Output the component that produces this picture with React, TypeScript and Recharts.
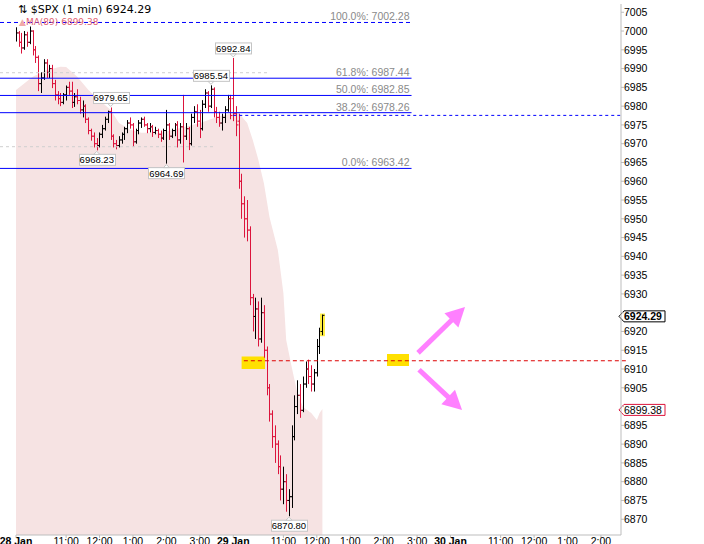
import React from 'react';
import {
  ComposedChart,
  Area,
  Bar,
  XAxis,
  YAxis,
  ReferenceLine,
  ReferenceArea,
  ReferenceDot,
} from 'recharts';

// time axis = trading minutes since 28 Jan 9:30 (one session = 390 min)
const BAR_MINUTES = 5;
const DAY2_START = 390;

// 28 Jan, 5-minute bars
const day1Open = [
  6998, 6999.5, 6997, 6995.5, 6999, 6997, 7000, 6995, 6993, 6986,
  6987.5, 6991.5, 6989, 6990, 6986, 6983, 6982, 6981, 6983, 6985,
  6984, 6981, 6982.5, 6981.5, 6979, 6980, 6976.5, 6973.5, 6972, 6970,
  6969.5, 6972.5, 6974, 6976.5, 6978.5, 6972, 6970, 6969.5, 6971, 6972.5,
  6974, 6975.5, 6975, 6970.5, 6973.5, 6975.5, 6976.5, 6975, 6974, 6974.5,
  6973, 6973.5, 6972.5, 6971.5, 6973.5, 6975, 6972, 6973.5, 6975, 6971,
  6974.5, 6972, 6974, 6970, 6977, 6978.5, 6976, 6974, 6980.5, 6983.5,
  6980, 6984.5, 6978.5, 6977, 6975.5, 6977, 6979, 6982,
];
const day1High = [
  7001, 7000, 6999.5, 7000, 6999.8, 7001.2, 7000.2, 6996, 6993.5, 6989,
  6992.5, 6992.5, 6991, 6991, 6987, 6984, 6983.5, 6983.5, 6985.5, 6986.5,
  6986.5, 6983.5, 6984.5, 6982.5, 6981.5, 6980.5, 6977, 6974, 6973, 6971.5,
  6973, 6975, 6977.2, 6978.8, 6979.65, 6972.5, 6971, 6972, 6973, 6974.5,
  6976.3, 6977, 6975.5, 6974, 6976.3, 6977, 6977.2, 6975.5, 6975.5, 6975,
  6974.5, 6974, 6973.5, 6974, 6979, 6975.5, 6974, 6975.5, 6976, 6975.5,
  6983, 6975.5, 6974.5, 6978, 6980, 6980.5, 6979, 6981.6, 6984.5, 6984,
  6985.54, 6985, 6979.8, 6978.5, 6978, 6980, 6983, 6983,
];
const day1Low = [
  6997.2, 6995.8, 6994, 6995, 6995.8, 6996.5, 6993.5, 6991.5, 6984, 6983.5,
  6987, 6987.5, 6987.5, 6984.8, 6981.5, 6980.5, 6980, 6980.5, 6981.5, 6983,
  6979.5, 6979.8, 6980.5, 6978, 6977, 6975.5, 6972.5, 6970.8, 6969, 6968.23,
  6969, 6971.5, 6973.5, 6975.5, 6971, 6969, 6968.5, 6969, 6970, 6971,
  6972.8, 6974, 6969.2, 6970, 6972.5, 6974.2, 6974.5, 6972.8, 6973, 6971.8,
  6972.5, 6971.5, 6970.5, 6971, 6964.69, 6971, 6971.5, 6972, 6969, 6970,
  6965, 6971, 6968.3, 6969.5, 6975.5, 6974.5, 6971.5, 6973.5, 6979.5, 6978.5,
  6979.5, 6977, 6975.5, 6974.5, 6973.5, 6975.5, 6978.5, 6976.5,
];
const day1Close = [
  6999.5, 6997, 6995.5, 6999, 6997, 7000, 6995, 6993, 6986, 6987.5,
  6991.5, 6989, 6990, 6986, 6983, 6982, 6981, 6983, 6985, 6984,
  6981, 6982.5, 6981.5, 6979, 6980, 6976.5, 6973.5, 6972, 6970, 6969.5,
  6972.5, 6974, 6976.5, 6978.5, 6972, 6970, 6969.5, 6971, 6972.5, 6974,
  6975.5, 6975, 6970.5, 6973.5, 6975.5, 6976.5, 6975, 6974, 6974.5, 6973,
  6973.5, 6972.5, 6971.5, 6973.5, 6975, 6972, 6973.5, 6975, 6971, 6974.5,
  6972, 6974, 6970, 6977, 6978.5, 6976, 6974, 6980.5, 6983.5, 6980,
  6984.5, 6978.5, 6977, 6975.5, 6977, 6979, 6982, 6977.5,
];

// 29 Jan, 9:30 to about 12:10
const day2Open = [
  6982, 6978, 6976, 6960, 6954, 6950, 6947, 6929, 6924, 6926,
  6918, 6925, 6915, 6905, 6898, 6892, 6890, 6884, 6878, 6880,
  6875, 6876, 6892, 6900, 6903, 6899, 6906, 6910, 6908, 6906,
  6909, 6916, 6920,
];
const day2High = [
  6992.84, 6980, 6978, 6962, 6956, 6955, 6948, 6930, 6929, 6928,
  6929, 6927, 6916, 6906, 6899, 6895, 6891, 6887, 6884, 6882,
  6878, 6895, 6903, 6907, 6906, 6908, 6912, 6912.5, 6911, 6910,
  6918, 6921, 6924.5,
];
const day2Low = [
  6976, 6972, 6958, 6950, 6945, 6944, 6927, 6920, 6918, 6916,
  6917, 6913, 6903, 6896, 6889, 6885, 6882, 6875, 6874, 6872,
  6870.8, 6873, 6891, 6898, 6897, 6898.5, 6905, 6906, 6904, 6904,
  6908, 6914, 6919,
];
const day2Close = [
  6978, 6975, 6960, 6954, 6950, 6947, 6929, 6924, 6926, 6918,
  6925, 6915, 6905, 6898, 6892, 6890, 6884, 6878, 6880, 6875,
  6876, 6892, 6900, 6903, 6899, 6906, 6910, 6908, 6906, 6909,
  6916, 6920, 6924.29,
];

// MA(89) outline of the shaded area
const maTimes = [
  0, 30, 55, 80, 90, 110, 130, 150, 170, 185, 205, 225, 260, 295, 330, 365,
  390, 400, 415, 425, 435, 445, 455, 470, 480, 485, 495, 505, 515, 530, 540, 545, 550,
];
const maValues = [
  6984.3, 6987.8, 6989.6, 6990.5, 6990.4, 6987.8, 6984.3, 6981.6, 6979, 6975.5,
  6973.7, 6972.9, 6972.9, 6974.2, 6975.5, 6977.3, 6978.2, 6978.2, 6975.5, 6971,
  6965.7, 6959.5, 6950.5, 6941.7, 6930.2, 6917.7, 6910.5, 6903.6, 6899.9, 6898.3,
  6896.4, 6898.3, 6899.38,
];

// Fibonacci retracement
const fibPct = ['100.0%', '61.8%', '50.0%', '38.2%', '0.0%'];
const fibLevels = [7002.28, 6987.44, 6982.85, 6978.26, 6963.42];

// swing high / low flags
const highMarkTimes = [390, 350, 170];
const highMarkValues = [6992.84, 6985.54, 6979.65];
const lowMarkTimes = [145, 270, 490];
const lowMarkValues = [6968.23, 6964.69, 6870.8];

const prevClose = 6977.54;
const pivotLevel = 6912.2;
const grayLevels = [6988.9, 6969.2];
const grayEnds = [452, 354];

const xTicks = [0, 90, 150, 210, 270, 330, 390, 480, 540, 600, 660, 720, 780, 870, 930, 990, 1050];
const xTickLabels = [
  '28 Jan', '11:00', '12:00', '1:00', '2:00', '3:00',
  '29 Jan', '11:00', '12:00', '1:00', '2:00', '3:00',
  '30 Jan', '11:00', '12:00', '1:00', '2:00',
];
const yTicks = [
  6870, 6875, 6880, 6885, 6890, 6895, 6900, 6905, 6910, 6915, 6920, 6925, 6930, 6935,
  6940, 6945, 6950, 6955, 6960, 6965, 6970, 6975, 6980, 6985, 6990, 6995, 7000, 7005,
];

const Y_MIN = 6865.8;
const Y_MAX = 7007.2;
const X_MAX = 1086;
const X_PAGE_LEFT = -28.7; // x of the picture's left edge, in minutes
const FIB_END = 710;

const FONT = '"Liberation Sans", Arial, sans-serif';
const UP = '#000000';
const DOWN = '#dc143c';
const BLUE = '#0000ff';
const PINK = '#ff80ff';
const YELLOW = '#ffe000';

const bars = [
  ...day1Close.map((c, i) => ({
    t: i * BAR_MINUTES,
    open: day1Open[i],
    high: day1High[i],
    low: day1Low[i],
    close: c,
  })),
  ...day2Close.map((c, i) => ({
    t: DAY2_START + i * BAR_MINUTES,
    open: day2Open[i],
    high: day2High[i],
    low: day2Low[i],
    close: c,
  })),
];
const lastT = bars[bars.length - 1].t;
const lastClose = day2Close[day2Close.length - 1];
const lastMa = maValues[maValues.length - 1];
const tagValues = [lastClose, lastMa];

const chartData = bars.map((b) => {
  const k = maTimes.indexOf(b.t);
  return { ...b, ma: k >= 0 ? maValues[k] : undefined };
});

const OhlcBar = (props: any) => {
  const { x, y, width, height, payload } = props;
  if (!payload || y == null || height == null) return null;
  const { open, high, low, close, t } = payload;
  const cx = Math.round(x + width / 2) + 0.5;
  const span = high - low;
  const pos = (v: number) => (span > 0 ? y + ((high - v) / span) * height : y);
  const color = close >= open ? UP : DOWN;
  return (
    <g>
      {t === lastT && (
        <rect x={cx - 2.5} y={y - 1} width={5} height={height + 2} fill="#ffee44" />
      )}
      <line x1={cx} x2={cx} y1={y} y2={y + height} stroke={color} strokeWidth={1} />
      <line x1={cx - 2} x2={cx} y1={pos(open)} y2={pos(open)} stroke={color} strokeWidth={1} />
      <line x1={cx} x2={cx + 2} y1={pos(close)} y2={pos(close)} stroke={color} strokeWidth={1} />
    </g>
  );
};

const PriceFlag = ({ cx, cy, value, above }: any) => {
  if (cx == null || cy == null) return null;
  const w = 36;
  const h = 11;
  const left = Math.round(cx - w / 2) + 0.5;
  const tip = above ? cy - 1 : cy + 1;
  const edge = above ? cy - 4 : cy + 4;
  const top = above ? edge - h : edge;
  return (
    <g>
      <rect x={left} y={top} width={w} height={h} fill="#fff" stroke="#c4c4c4" />
      <polygon
        points={`${cx - 3},${edge} ${cx},${tip} ${cx + 3},${edge}`}
        fill="#fff"
        stroke="#c4c4c4"
      />
      <text
        x={cx}
        y={top + h / 2}
        dy="0.36em"
        textAnchor="middle"
        fontSize={9.5}
        fontFamily={FONT}
        fill="#000"
      >
        {value.toFixed(2)}
      </text>
    </g>
  );
};

const AxisTag = ({ viewBox, value, border, bold }: any) => {
  if (!viewBox) return null;
  const x = viewBox.x + viewBox.width - 2;
  const cy = viewBox.y + 1;
  return (
    <g>
      <polygon
        points={`${x},${cy} ${x + 5},${cy - 5.5} ${x + 46},${cy - 5.5} ${x + 46},${cy + 5.5} ${x + 5},${cy + 5.5}`}
        fill="#fff"
        stroke={border}
      />
      <text
        x={x + 5}
        y={cy}
        dy="0.36em"
        fontSize={10.5}
        fontFamily={FONT}
        fontWeight={bold ? 'bold' : 'normal'}
        fill="#000"
      >
        {value.toFixed(2)}
      </text>
    </g>
  );
};

const ArrowShape = (p: any) => {
  const { x1, y1, x2, y2 } = p;
  if (x1 == null) return null;
  const dx = x2 - x1;
  const dy = y2 - y1;
  const len = Math.hypot(dx, dy) || 1;
  const ux = dx / len;
  const uy = dy / len;
  const nx = -uy;
  const ny = ux;
  const bx = x2 - ux * 19;
  const by = y2 - uy * 19;
  return (
    <g>
      <line x1={x1} y1={y1} x2={bx + ux * 2} y2={by + uy * 2} stroke={PINK} strokeWidth={5} />
      <polygon
        points={`${x2},${y2} ${bx + nx * 10},${by + ny * 10} ${bx - nx * 10},${by - ny * 10}`}
        fill={PINK}
      />
    </g>
  );
};

const TimeTick = (props: any) => {
  const { x, y, payload } = props;
  const k = xTicks.indexOf(payload.value);
  const label = xTickLabels[k] ?? '';
  const isDate = label.includes('Jan');
  return (
    <text
      x={x}
      y={y}
      dy="0.71em"
      textAnchor="middle"
      fontSize={10.5}
      fontFamily={FONT}
      fontWeight={isDate ? 'bold' : 'normal'}
      fill="#000"
    >
      {label}
    </text>
  );
};

// price labels; the ones sitting under a price tag are covered by it
const PriceTick = (props: any) => {
  const { x, y, payload } = props;
  if (tagValues.some((v) => Math.abs(v - payload.value) < 2.5)) return null;
  return (
    <text x={x} y={y} dy="0.36em" textAnchor="start" fontSize={10.5} fontFamily={FONT} fill="#000">
      {payload.value}
    </text>
  );
};

const App: React.FC = () => {
  return (
    <div
      style={{
        position: 'absolute',
        left: 0,
        top: 0,
        width: 704,
        height: 544,
        background: '#fff',
        overflow: 'hidden',
        fontFamily: FONT,
      }}
    >
      <ComposedChart
        width={704}
        height={544}
        data={chartData}
        margin={{ top: 4, right: 0, bottom: 0, left: 16 }}
      >
        <XAxis
          dataKey="t"
          type="number"
          domain={[0, X_MAX]}
          allowDataOverflow
          ticks={xTicks}
          interval={0}
          tick={<TimeTick />}
          tickSize={3}
          tickMargin={0}
          height={9}
          stroke="#bdbdbd"
        />
        <XAxis
          xAxisId="frame"
          orientation="top"
          type="number"
          domain={[0, X_MAX]}
          height={0}
          tick={false}
          tickLine={false}
          stroke="#bdbdbd"
        />
        <YAxis
          orientation="right"
          type="number"
          domain={[Y_MIN, Y_MAX]}
          allowDataOverflow
          ticks={yTicks}
          interval={0}
          tickSize={3}
          tickMargin={0}
          width={83}
          stroke="#bdbdbd"
          tick={<PriceTick />}
        />
        <YAxis
          yAxisId="frame"
          orientation="left"
          type="number"
          domain={[Y_MIN, Y_MAX]}
          width={0}
          tick={false}
          tickLine={false}
          stroke="#bdbdbd"
        />

        {/* MA(89) shading */}
        <Area
          dataKey="ma"
          type="linear"
          stroke="none"
          fill="#f6e3e3"
          fillOpacity={1}
          baseValue="dataMin"
          connectNulls
          dot={false}
          activeDot={false}
          isAnimationActive={false}
        />

        {/* yellow level markers */}
        <ReferenceArea x1={405} x2={447} y1={6910.0} y2={6913.3} fill={YELLOW} fillOpacity={1} stroke="none" ifOverflow="visible" />
        <ReferenceArea x1={666} x2={705.5} y1={6910.8} y2={6914.0} fill={YELLOW} fillOpacity={1} stroke="none" ifOverflow="visible" />

        {/* gray guide lines */}
        {grayLevels.map((v, i) => (
          <ReferenceLine
            key={`g${v}`}
            segment={[{ x: X_PAGE_LEFT, y: v }, { x: grayEnds[i], y: v }]}
            stroke="#cfcfcf"
            strokeDasharray="3 3"
            ifOverflow="visible"
          />
        ))}

        {/* previous close and pivot */}
        <ReferenceLine
          segment={[{ x: DAY2_START, y: prevClose }, { x: X_MAX, y: prevClose }]}
          stroke={BLUE}
          strokeDasharray="3 3"
          ifOverflow="visible"
        />
        <ReferenceLine
          segment={[{ x: 409, y: pivotLevel }, { x: 1098, y: pivotLevel }]}
          stroke="#dd0000"
          strokeDasharray="4 3"
          ifOverflow="visible"
        />

        {/* Fibonacci levels */}
        {fibLevels.map((v, i) => (
          <ReferenceLine
            key={`f${v}`}
            segment={[{ x: X_PAGE_LEFT, y: v }, { x: FIB_END, y: v }]}
            stroke={BLUE}
            strokeDasharray={i === 0 ? '4 3' : undefined}
            ifOverflow="visible"
            label={{
              value: `${fibPct[i]}: ${v.toFixed(2)}`,
              position: 'insideBottomRight',
              offset: 2,
              fill: '#8a8a8a',
              fontSize: 10.5,
              fontFamily: FONT,
            }}
          />
        ))}

        <Bar
          dataKey={(d: any) => [d.low, d.high]}
          barSize={3}
          shape={<OhlcBar />}
          isAnimationActive={false}
        />

        {/* up / down scenario arrows */}
        <ReferenceLine
          segment={[{ x: 721.7, y: 6914.3 }, { x: 806, y: 6926.5 }]}
          ifOverflow="visible"
          shape={(p: any) => <ArrowShape {...p} />}
        />
        <ReferenceLine
          segment={[{ x: 723.5, y: 6909.8 }, { x: 800.7, y: 6899.1 }]}
          ifOverflow="visible"
          shape={(p: any) => <ArrowShape {...p} />}
        />

        {highMarkTimes.map((t, i) => (
          <ReferenceDot
            key={`h${t}`}
            x={t}
            y={highMarkValues[i]}
            ifOverflow="visible"
            shape={(p: any) => <PriceFlag cx={p.cx} cy={p.cy} value={highMarkValues[i]} above />}
          />
        ))}
        {lowMarkTimes.map((t, i) => (
          <ReferenceDot
            key={`l${t}`}
            x={t}
            y={lowMarkValues[i]}
            ifOverflow="visible"
            shape={(p: any) => <PriceFlag cx={p.cx} cy={p.cy} value={lowMarkValues[i]} />}
          />
        ))}

        {/* last price and MA tags on the price axis */}
        <ReferenceLine
          y={lastClose}
          stroke="none"
          ifOverflow="visible"
          label={(p: any) => <AxisTag viewBox={p.viewBox} value={lastClose} border="#000" bold />}
        />
        <ReferenceLine
          y={lastMa}
          stroke="none"
          ifOverflow="visible"
          label={(p: any) => <AxisTag viewBox={p.viewBox} value={lastMa} border={DOWN} />}
        />
      </ComposedChart>

      <div
        style={{
          position: 'absolute',
          left: 18,
          top: 3,
          fontSize: 11,
          lineHeight: '13px',
          fontFamily: '"DejaVu Sans", sans-serif',
          color: '#000',
          whiteSpace: 'nowrap',
        }}
      >
        ⇅ $SPX (1 min) {lastClose.toFixed(2)}
      </div>
      <div
        style={{
          position: 'absolute',
          left: 19,
          top: 16,
          fontSize: 9,
          lineHeight: '12px',
          fontFamily: '"DejaVu Sans", sans-serif',
          color: '#e06070',
          whiteSpace: 'nowrap',
        }}
      >
        <span style={{ color: '#f2a8a8' }}>▲</span>MA(89) {lastMa.toFixed(2)}
      </div>
    </div>
  );
};

export default App;
